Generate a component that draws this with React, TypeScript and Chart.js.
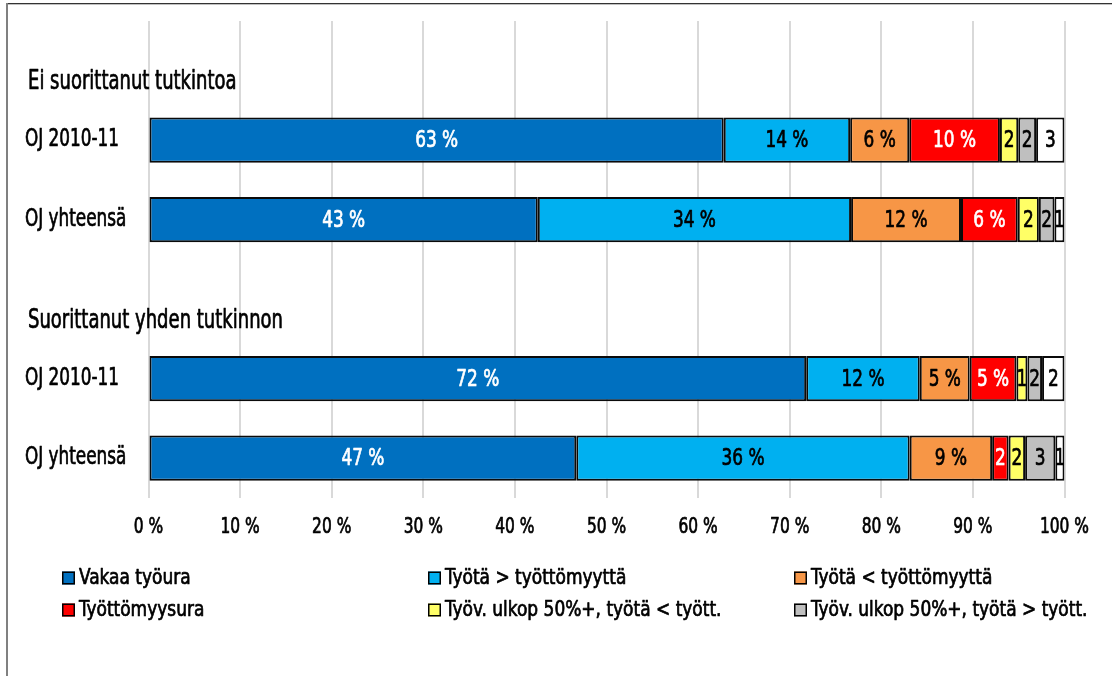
import { useEffect, useRef } from "react";
import { Chart, registerables } from "chart.js";

Chart.register(...registerables);

const FONT = "'DejaVu Sans Condensed', 'DejaVu Sans', sans-serif";

// Categories (rows). Empty strings are the group-title rows.
const categories = ["", "OJ 2010-11", "OJ yhteensä", "", "OJ 2010-11", "OJ yhteensä"];
const groupTitles = ["Ei suorittanut tutkintoa", "Suorittanut yhden tutkinnon"];
const groupTitleRows = [0, 3];

// Series values (percent of row)
const vakaa = [null, 62.8, 42.5, null, 71.8, 46.7];
const tyotaGt = [null, 13.8, 34.2, null, 12.4, 36.4];
const tyotaLt = [null, 6.45, 12.0, null, 5.45, 9.0];
const tyottomyys = [null, 9.9, 6.2, null, 5.1, 1.8];
const ulkopLt = [null, 2.0, 2.3, null, 1.2, 1.8];
const ulkopGt = [null, 1.95, 1.7, null, 1.6, 3.3];
const muu = [null, 3.1, 1.1, null, 2.45, 1.0];

const seriesNames = [
  "Vakaa työura",
  "Työtä > työttömyyttä",
  "Työtä < työttömyyttä",
  "Työttömyysura",
  "Työv. ulkop 50%+, työtä < tyött.",
  "Työv. ulkop 50%+, työtä > tyött.",
  "Muu",
];
const seriesValues = [vakaa, tyotaGt, tyotaLt, tyottomyys, ulkopLt, ulkopGt, muu];
const seriesColors = ["#0070C0", "#00B0F0", "#F79646", "#FF0000", "#FFFF66", "#BFBFBF", "#FFFFFF"];
const labelColors = ["#FFFFFF", "#000000", "#000000", "#FFFFFF", "#000000", "#000000", "#000000"];
const inLegend = [true, true, true, true, true, true, false];

const xTicks = [0, 10, 20, 30, 40, 50, 60, 70, 80, 90, 100];

function condensedText(
  ctx: CanvasRenderingContext2D,
  text: string,
  x: number,
  y: number,
  size: number,
  align: CanvasTextAlign,
  color: string,
  sx: number
) {
  ctx.save();
  ctx.translate(x, y);
  ctx.scale(sx, 1);
  ctx.font = `${size}px ${FONT}`;
  ctx.fillStyle = color;
  ctx.strokeStyle = color;
  ctx.lineWidth = 0.7;
  ctx.lineJoin = "round";
  ctx.textAlign = align;
  ctx.textBaseline = "middle";
  ctx.fillText(text, 0, 0);
  ctx.strokeText(text, 0, 0);
  ctx.restore();
}

const overlayPlugin = {
  id: "overlay",
  afterDatasetsDraw(chart: any) {
    const ctx = chart.ctx;
    chart.data.datasets.forEach((ds: any, di: number) => {
      const meta = chart.getDatasetMeta(di);
      meta.data.forEach((el: any, i: number) => {
        const v = ds.data[i];
        if (v == null) return;
        const p = el.getCenterPoint();
        const r = Math.round(v);
        const txt = v >= 4 ? `${r} %` : `${r}`;
        condensedText(ctx, txt, p.x, p.y + 1, 23.5, "center", labelColors[di], 0.8);
      });
    });
  },
  afterDraw(chart: any) {
    const ctx = chart.ctx;
    const yScale = chart.scales.y;
    const xScale = chart.scales.x;
    // category labels
    categories.forEach((c, i) => {
      if (!c) return;
      condensedText(ctx, c, 25, yScale.getPixelForValue(i), 24, "left", "#000", 0.78);
    });
    // group titles
    groupTitleRows.forEach((row, k) => {
      const y = yScale.getPixelForValue(row) + 22;
      condensedText(ctx, groupTitles[k], 28, y, 26, "left", "#000", 0.77);
    });
    // x tick labels
    xScale.ticks.forEach((t: any) => {
      const x = xScale.getPixelForValue(t.value);
      condensedText(ctx, `${t.value} %`, x, xScale.top + 29.5, 22, "center", "#000", 0.78);
    });
    // legend
    const items = seriesNames
      .map((n, i) => ({ n, i }))
      .filter((it) => inLegend[it.i]);
    const colX = [62, 428, 794];
    const rowY = [578, 610];
    items.forEach((it, k) => {
      const cx = colX[k % 3];
      const cy = rowY[Math.floor(k / 3)];
      ctx.save();
      ctx.fillStyle = seriesColors[it.i];
      ctx.fillRect(cx, cy - 6.5, 13, 13);
      ctx.strokeStyle = "#000";
      ctx.lineWidth = 1.5;
      ctx.strokeRect(cx + 0.75, cy - 5.75, 11.5, 11.5);
      ctx.restore();
      condensedText(ctx, it.n, cx + 17, cy + 1, 21, "left", "#000", 0.9);
    });
  },
};

export default function App() {
  const ref = useRef<HTMLCanvasElement>(null);
  useEffect(() => {
    document.body.style.margin = "0";
    const chart = new Chart(ref.current!, {
      type: "bar",
      data: {
        labels: categories,
        datasets: seriesValues.map((vals, i) => ({
          label: seriesNames[i],
          data: vals as any,
          backgroundColor: seriesColors[i],
          borderColor: "#0a0a0a",
          borderWidth: 2,
          borderSkipped: false,
          barPercentage: 0.57,
          categoryPercentage: 1,
        })),
      },
      options: {
        indexAxis: "y",
        animation: false,
        responsive: false,
        devicePixelRatio: 1,
        layout: { padding: { left: 25, top: 21, right: 47.5, bottom: 0 } },
        plugins: {
          legend: { display: false },
          tooltip: { enabled: false },
        },
        scales: {
          x: {
            stacked: true,
            min: 0,
            max: 100,
            afterBuildTicks: (s: any) => {
              s.ticks = xTicks.map((v) => ({ value: v }));
            },
            ticks: { display: false },
            grid: { color: "#D9D9D9", lineWidth: 2, drawTicks: false },
            border: { display: false },
            afterFit: (s: any) => {
              s.height = 178.25;
            },
          },
          y: {
            stacked: true,
            ticks: { display: false },
            grid: { display: false },
            border: { display: false },
            afterFit: (s: any) => {
              s.width = 123.5;
            },
          },
        },
      },
      plugins: [overlayPlugin],
    });
    return () => chart.destroy();
  }, []);
  return (
    <div style={{ position: "relative", width: 1112, height: 676, background: "#fff", overflow: "hidden" }}>
      <canvas ref={ref} width={1112} height={676} style={{ position: "absolute", left: 0, top: 0, width: 1112, height: 676 }} />
      <div style={{ position: "absolute", left: 6, top: 3, right: 0, height: 1, background: "#333" }} />
      <div style={{ position: "absolute", left: 6, top: 4, right: 0, height: 1, background: "#C0C0C0" }} />
      <div style={{ position: "absolute", left: 6, top: 3, bottom: 0, width: 2, background: "#808080" }} />
    </div>
  );
}
